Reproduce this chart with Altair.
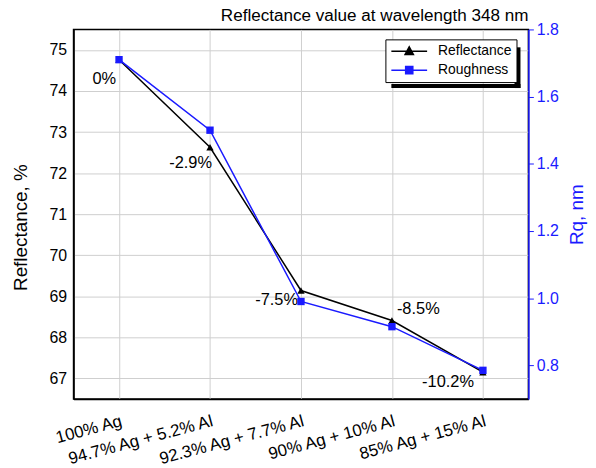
import altair as alt
import pandas as pd

categories = ["100% Ag", "94.7% Ag + 5.2% Al", "92.3% Ag + 7.7% Al", "90% Ag + 10% Al", "85% Ag + 15% Al"]
reflectance = [74.76, 72.63, 69.14, 68.41, 67.15]
roughness = [1.71, 1.50, 0.99, 0.915, 0.785]
change_labels = ["0%", "-2.9%", "-7.5%", "-8.5%", "-10.2%"]
series_names = ["Reflectance", "Roughness"]
left_ticks = [67, 68, 69, 70, 71, 72, 73, 74, 75]
right_ticks = [0.8, 1.0, 1.2, 1.4, 1.6, 1.8]

FONT = "Liberation Sans"
BLUE = "#1a1aff"

df = pd.DataFrame({
    "composition": categories,
    "reflectance": reflectance,
    "roughness": roughness,
    "label": change_labels,
    "idx": list(range(len(categories))),
})
legend_df = pd.DataFrame({
    "composition": [categories[0]] * 2,
    "reflectance": [reflectance[0]] * 2,
    "series": series_names,
})

x_enc = alt.X(
    "composition:N", sort=categories,
    scale=alt.Scale(type="point", padding=0.5),
    axis=alt.Axis(title=None, labelAngle=345, labelAlign="right", labelBaseline="top",
                  labelPadding=14, ticks=False, grid=True, gridColor="#cfcfcf",
                  domainColor="black", domainWidth=1.5, labelFontSize=17,
                  labelColor="black", labelFont=FONT),
)
y_left = alt.Y(
    "reflectance:Q",
    scale=alt.Scale(domain=[66.5, 75.5], nice=False, zero=False),
    axis=alt.Axis(title="Reflectance, %", values=left_ticks, grid=True, gridColor="#cfcfcf",
                  ticks=False, labelPadding=7, labelFontSize=16, labelFont=FONT,
                  labelColor="black", titleFontSize=19, titleFont=FONT,
                  titleFontWeight="normal", titleColor="black", titlePadding=19,
                  titleY=199, domainColor="black", domainWidth=1.5),
)
y_right = alt.Y(
    "roughness:Q",
    scale=alt.Scale(domain=[0.7, 1.8], nice=False, zero=False),
    axis=alt.Axis(title="Rq, nm", orient="right", values=right_ticks, format=".1f",
                  grid=False, tickColor=BLUE, tickSize=5, labelPadding=3,
                  labelFontSize=16, labelFont=FONT, labelColor=BLUE,
                  titleFontSize=19, titleFont=FONT, titleFontWeight="normal",
                  titleColor=BLUE, titleAngle=270, titleBaseline="top", titlePadding=9,
                  domainColor=BLUE, domainWidth=1.5),
)

base = alt.Chart(df)
line_ref = base.mark_line(color="black", strokeWidth=1.5).encode(x=x_enc, y=y_left)
pts_ref = base.mark_point(shape="triangle-up", filled=True, color="black", size=55, opacity=1).encode(x=x_enc, y=y_left)

label_styles = [
    dict(align="right", dx=-3, dy=19),
    dict(align="right", dx=2, dy=16),
    dict(align="right", dx=-3, dy=10),
    dict(align="left", dx=5, dy=-12),
    dict(align="right", dx=-9, dy=10),
]
texts = [
    base.transform_filter(alt.datum.idx == i)
    .mark_text(baseline="middle", fontSize=16.5, font=FONT, color="black", **st)
    .encode(x=x_enc, y=y_left, text="label:N")
    for i, st in enumerate(label_styles)
]

# legend drop shadow (decoration drawn as two thick rules behind the legend box)
shadow_right = alt.Chart(legend_df.iloc[:1]).mark_rule(color="black", strokeWidth=6).encode(
    x=alt.value(447), y=alt.value(18), y2=alt.value(59)
)
shadow_bottom = alt.Chart(legend_df.iloc[:1]).mark_rule(color="black", strokeWidth=4).encode(
    x=alt.value(320), x2=alt.value(450), y=alt.value(57)
)

tri_path = "M-3,0L3,0M0,-0.75L0.7,0.55L-0.7,0.55Z"
sq_path = "M-3,0L3,0M-0.6,-0.6L0.6,-0.6L0.6,0.6L-0.6,0.6Z"
leg = alt.Legend(title=None)
legend_layer = alt.Chart(legend_df).mark_point(opacity=0, filled=True, strokeWidth=1.5).encode(
    x=x_enc, y=y_left,
    fill=alt.Fill("series:N", scale=alt.Scale(domain=series_names, range=["black", BLUE]), legend=leg),
    stroke=alt.Stroke("series:N", scale=alt.Scale(domain=series_names, range=["black", BLUE]), legend=leg),
    shape=alt.Shape("series:N", scale=alt.Scale(domain=series_names, range=[tri_path, sq_path]), legend=leg),
)

line_rough = base.mark_line(color=BLUE, strokeWidth=1.5).encode(x=x_enc, y=y_right)
pts_rough = base.mark_point(shape="square", filled=True, color=BLUE, size=55, opacity=1).encode(x=x_enc, y=y_right)

left = alt.layer(line_ref, pts_ref, *texts, shadow_right, shadow_bottom, legend_layer)
right = alt.layer(line_rough, pts_rough)

chart = (
    alt.layer(left, right)
    .resolve_scale(y="independent")
    .properties(
        width=458, height=372,
        autosize=alt.AutoSizeParams(type="none"),
        padding={"left": 66, "top": 20, "right": 60, "bottom": 68},
        title=alt.Title("Reflectance value at wavelength 348 nm", anchor="end", frame="group",
                        fontSize=17.2, font=FONT, fontWeight="normal", color="black",
                        offset=7, dy=10),
    )
    .configure_view(stroke="black", strokeWidth=1.5)
    .configure_legend(orient="none", legendX=314, legendY=10, padding=5,
                      strokeColor="black", fillColor="white", symbolSize=144,
                      symbolStrokeWidth=1.5, symbolOpacity=1, symbolOffset=12,
                      labelOffset=22, labelFontSize=14, labelFont=FONT,
                      labelColor="black", rowPadding=5)
)

chart.save("out.html", embed_options={"renderer": "svg", "actions": False})
